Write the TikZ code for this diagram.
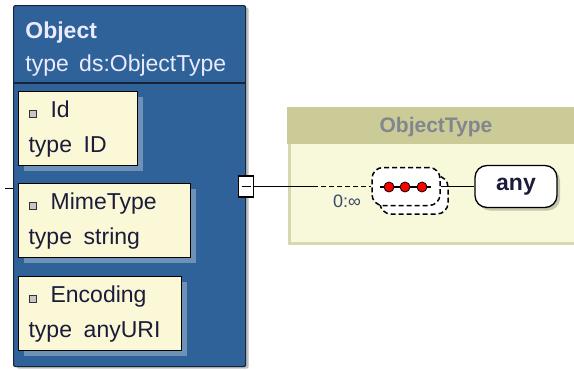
\documentclass[tikz,border=0pt]{standalone}
\usepackage{fontspec}
\setmainfont{Liberation Sans}
\usetikzlibrary{positioning,shadows}
\definecolor{objblue}{HTML}{30629A}
\definecolor{objline}{HTML}{16263A}
\definecolor{cellyel}{HTML}{FAF8D6}
\definecolor{khaki}{HTML}{CBCB97}
\definecolor{khakibody}{HTML}{F8F8DA}
\definecolor{khakiline}{HTML}{D9D7AE}
\definecolor{celltext}{HTML}{1B1B3A}
\definecolor{cardtext}{HTML}{3A4A6A}
\definecolor{typegray}{HTML}{82868E}
\newcommand{\elicon}{{\setlength\fboxsep{0pt}\setlength\fboxrule{1pt}%
  \fcolorbox{black!80}{gray!45}{\rule{0pt}{6pt}\rule{6pt}{0pt}}}}
\newcommand{\tsp}{\ \hspace{4pt}}

\begin{document}
\begin{tikzpicture}[x=1pt,y=-1pt,thick,
    every node/.style={inner sep=0pt},
    objbox/.style={draw=objline,fill=objblue,line width=1.2pt,rounded corners=2pt,
      anchor=north west,minimum width=232pt,minimum height=361pt,
      drop shadow={shadow xshift=3pt,shadow yshift=-2pt,fill=black,opacity=0.25}},
    cell/.style={draw=black,fill=cellyel,line width=1.2pt,anchor=north west,
      minimum height=74pt,align=left,inner xsep=10pt,text=celltext,
      font=\fontsize{23}{35}\selectfont,
      drop shadow={shadow xshift=5pt,shadow yshift=-5pt,fill=white,opacity=0.3}},
    hdtext/.style={anchor=base west,text=white!92!blue,font=\fontsize{23}{27}\selectfont},
    seqbox/.style={draw=black,fill=white,dash pattern=on 5pt off 3pt,line width=1.5pt,
      rounded corners=11pt,minimum width=68pt,minimum height=38pt},
    dot/.style={circle,draw=black,fill=red,line width=0.8pt,minimum size=10pt},
    anybox/.style={draw=black,fill=white,line width=1.3pt,rounded corners=12pt,
      minimum width=82pt,minimum height=42pt,font=\bfseries\fontsize{23}{27}\selectfont,
      text=celltext,
      drop shadow={shadow xshift=3pt,shadow yshift=-3pt,fill=black,opacity=0.2}}]
  \useasboundingbox (0,0) rectangle (574,370);

  % complex type box on the right
  \node[draw=khakiline,line width=3pt,fill=khakibody,anchor=north west,
    minimum width=300pt,minimum height=134pt] (ctype) at (288,108) {};
  \node[fill=khaki,anchor=north west,minimum width=300pt,minimum height=37pt]
    (ctypehd) at (286.5,106.5) {};
  \node[text=typegray,font=\bfseries\fontsize{21}{25}\selectfont]
    (ctypename) at (436,127) {ObjectType};

  % element Object
  \node[objbox] (obj) at (13,5) {};
  \draw[objline,line width=1.2pt] (obj.west |- 0,83) -- (obj.east |- 0,83);
  \node[hdtext,font=\bfseries\fontsize{23}{27}\selectfont] (objname) at (25,38) {Object};
  \node[hdtext] (objtype) at (25,71) {type\tsp ds:ObjectType};

  \node[cell,text width=99pt] (id) at (18,91) {\elicon\hspace{14pt}Id\\type\tsp ID};
  \node[cell,text width=152pt] (mime) at (18,183) {\elicon\hspace{14pt}MimeType\\type\tsp string};
  \node[cell,text width=143pt] (enc) at (18,276) {\elicon\hspace{14pt}Encoding\\type\tsp anyURI};

  % incoming line and collapse button
  \coordinate (in) at (5,188);
  \draw[line width=1pt] (in) -- (in -| obj.west);
  \node[draw=black,fill=white,line width=1.2pt,minimum width=15pt,minimum height=21pt]
    (coll) at (obj.east |- 0,186.5) {};
  \draw[line width=1.6pt] ([xshift=-4.5pt]coll.center) -- ([xshift=4.5pt]coll.center);

  % sequence
  \node[seqbox] (seqback) at (414,195) {};
  \node[seqbox] (seq) at (406,186.5) {};
  \node[dot] (d1) at (389,187) {};
  \node[dot] (d2) at (405,187) {};
  \node[dot] (d3) at (422,187) {};
  \draw[line width=1.2pt] ([xshift=-4pt]d1.west) -- (d1) -- (d2) -- (d3) -- ([xshift=4pt]d3.east);

  \coordinate (brk) at (313,186.5);
  \draw[line width=1.3pt] (coll.east) -- (brk);
  \draw[line width=1.3pt,dash pattern=on 5pt off 3pt] (brk) -- (seq.west);
  \node[text=cardtext,font=\fontsize{18}{20}\selectfont] (card) at (347,201) {0:∞};

  % any
  \node[anybox] (any) at (516,186.5) {any};
  \draw[line width=1.3pt] (seq.east) -- (any.west);
\end{tikzpicture}
\end{document}
